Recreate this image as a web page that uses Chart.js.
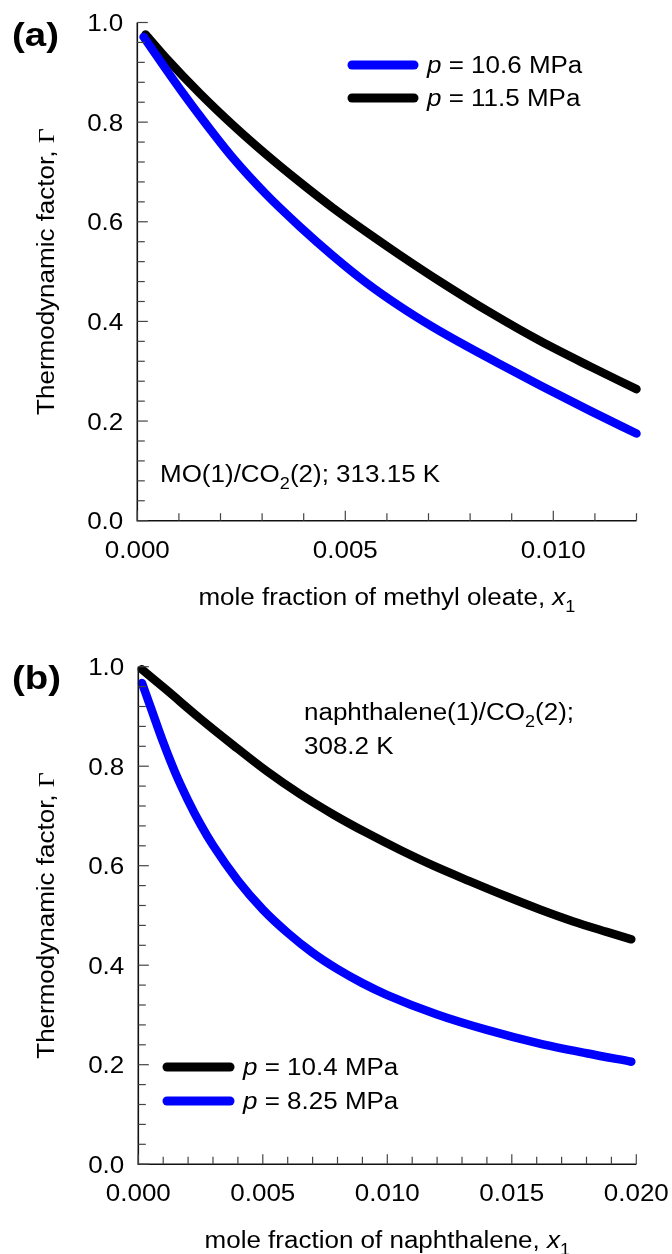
<!DOCTYPE html>
<html>
<head>
<meta charset="utf-8">
<script src="https://cdn.jsdelivr.net/npm/chart.js@4"></script>
<style>
html, body { margin: 0; padding: 0; background: #fff; }
.panel { width: 672px; height: 627px; }
</style>
</head>
<body>
<div class="panel"><canvas id="chartA" width="672" height="627"></canvas></div>
<div class="panel"><canvas id="chartB" width="672" height="627"></canvas></div>
<script>
// (a) methyl oleate / CO2, 313.15 K
const xA106 = [0.00015, 0.0007, 0.0011, 0.0015, 0.0023, 0.0031, 0.0039, 0.0047, 0.0055, 0.0063, 0.0071, 0.0079, 0.0087, 0.0097, 0.0109, 0.0120];
const yA106 = [0.971, 0.905, 0.858, 0.813, 0.728, 0.655, 0.591, 0.532, 0.478, 0.431, 0.389, 0.351, 0.315, 0.271, 0.220, 0.175];
const xA115 = [0.0002, 0.0007, 0.0015, 0.0023, 0.0031, 0.0039, 0.0047, 0.0055, 0.0063, 0.0073, 0.0085, 0.0097, 0.0109, 0.0120];
const yA115 = [0.976, 0.928, 0.858, 0.794, 0.735, 0.680, 0.628, 0.580, 0.534, 0.479, 0.417, 0.360, 0.309, 0.264];

// (b) naphthalene / CO2, 308.2 K
const xB104 = [0.00014, 0.00114, 0.00248, 0.00382, 0.00516, 0.00649, 0.00783, 0.00917, 0.0105, 0.01185, 0.0133, 0.0148, 0.01613, 0.01747, 0.01881, 0.0198];
const yB104 = [0.995, 0.953, 0.896, 0.842, 0.790, 0.744, 0.703, 0.666, 0.632, 0.600, 0.569, 0.538, 0.512, 0.488, 0.467, 0.452];
const xB825 = [0.00015, 0.0005, 0.001, 0.0015, 0.002, 0.0025, 0.003, 0.004, 0.005, 0.006, 0.007, 0.008, 0.009, 0.010, 0.012, 0.014, 0.016, 0.018, 0.0198];
const yB825 = [0.967, 0.918, 0.848, 0.785, 0.731, 0.683, 0.641, 0.570, 0.512, 0.465, 0.425, 0.392, 0.364, 0.340, 0.301, 0.270, 0.244, 0.223, 0.206];

// axis ticks with labels
const xMajorA = [0, 0.005, 0.010];
const xMajorB = [0, 0.005, 0.010, 0.015, 0.020];
const yMajor = [0, 0.2, 0.4, 0.6, 0.8, 1.0];

const BLUE = '#0000ff';
const BLACK = '#000000';
const SANS = '"Liberation Sans", Arial, sans-serif';
const SERIF = '"Liberation Serif", "Times New Roman", serif';
const STRETCH = 1.13; // figure text is a bit wider than Arial

// draws text made of pieces: {t, it, sub, bold, serif}
function drawRich(ctx, parts, x, y, o) {
    const fs = o.size;
    const fontOf = p => (p.bold ? 'bold ' : '') + (p.it ? 'italic ' : '') +
        Math.round((p.sub ? 0.68 : 1) * fs) + 'px ' + (p.serif ? SERIF : SANS);
    ctx.save();
    ctx.translate(x, y);
    if (o.rotate) ctx.rotate(o.rotate);
    ctx.scale(STRETCH, 1);
    let w = 0;
    const widths = parts.map(p => { ctx.font = fontOf(p); const m = ctx.measureText(p.t).width; w += m; return m; });
    let cx = o.align === 'center' ? -w / 2 : (o.align === 'right' ? -w : 0);
    ctx.fillStyle = '#000';
    ctx.textBaseline = 'alphabetic';
    parts.forEach((p, i) => {
        ctx.font = fontOf(p);
        ctx.fillText(p.t, cx, p.sub ? fs * 0.3 : 0);
        cx += widths[i];
    });
    ctx.restore();
}

function isMajor(v, list) {
    return list.some(m => Math.abs(v - m) < 1e-9);
}

function decorPlugin(cfg) {
    return {
        id: 'decor',
        afterDraw(chart) {
            const ctx = chart.ctx;
            const area = chart.chartArea;
            const xs = chart.scales.x;
            const ys = chart.scales.y;

            // axis lines
            ctx.save();
            ctx.strokeStyle = '#111';
            ctx.lineWidth = 1.6;
            ctx.beginPath();
            ctx.moveTo(area.left, area.top);
            ctx.lineTo(area.left, area.bottom);
            ctx.lineTo(area.right, area.bottom);
            ctx.stroke();

            // inward ticks
            ctx.strokeStyle = '#444';
            ctx.lineWidth = 1.2;
            xs.ticks.forEach(t => {
                const px = xs.getPixelForValue(t.value);
                const len = isMajor(t.value, cfg.xMajor) ? 10 : 7.5;
                ctx.beginPath();
                ctx.moveTo(px, area.bottom);
                ctx.lineTo(px, area.bottom - len);
                ctx.stroke();
            });
            ys.ticks.forEach(t => {
                const py = ys.getPixelForValue(t.value);
                const len = isMajor(t.value, yMajor) ? 10.5 : 7.5;
                ctx.beginPath();
                ctx.moveTo(area.left, py);
                ctx.lineTo(area.left + len, py);
                ctx.stroke();
            });
            ctx.restore();

            // tick labels
            cfg.xMajor.forEach(v => {
                drawRich(ctx, [{ t: v.toFixed(3) }], xs.getPixelForValue(v), area.bottom + 37, { size: 23, align: 'center' });
            });
            yMajor.forEach(v => {
                drawRich(ctx, [{ t: v.toFixed(1) }], area.left - 14, ys.getPixelForValue(v) + 8.5, { size: 23, align: 'right' });
            });

            // axis titles
            drawRich(ctx, cfg.xTitle, (area.left + area.right) / 2, area.bottom + 84, { size: 23, align: 'center' });
            drawRich(ctx, [{ t: 'Thermodynamic factor, ' }, { t: 'Γ', serif: true }], 54, (area.top + area.bottom) / 2,
                { size: 23, align: 'center', rotate: -Math.PI / 2 });

            // panel letter
            drawRich(ctx, [{ t: cfg.letter, bold: true }], 12, cfg.letterY, { size: 34 });

            // system annotation
            cfg.notes.forEach(n => drawRich(ctx, n.parts, n.x, n.y, { size: 23 }));

            // legend
            chart.data.datasets.forEach((ds, i) => {
                const lg = cfg.legend[i];
                ctx.save();
                ctx.strokeStyle = ds.borderColor;
                ctx.lineWidth = 9;
                ctx.lineCap = 'round';
                ctx.beginPath();
                ctx.moveTo(cfg.legendX[0], lg.y);
                ctx.lineTo(cfg.legendX[1], lg.y);
                ctx.stroke();
                ctx.restore();
                drawRich(ctx, [{ t: 'p', it: true }, { t: ' = ' + ds.label }], cfg.legendX[2], lg.y + 8, { size: 23 });
            });
        }
    };
}

function makeChart(id, cfg) {
    const datasets = cfg.series.map(s => ({
        label: s.label,
        data: s.x.map((v, i) => ({ x: v, y: s.y[i] })),
        borderColor: s.color,
        backgroundColor: s.color,
        showLine: true,
        pointRadius: 0,
        borderWidth: 8.5,
        borderCapStyle: 'round',
        borderJoinStyle: 'round',
        cubicInterpolationMode: 'monotone',
        clip: false
    }));
    return new Chart(document.getElementById(id), {
        type: 'scatter',
        data: { datasets: datasets },
        options: {
            responsive: false,
            animation: false,
            events: [],
            layout: { padding: { left: 0, top: cfg.area.top, right: 672 - cfg.area.right, bottom: 0 } },
            plugins: { legend: { display: false }, tooltip: { enabled: false } },
            scales: {
                x: {
                    type: 'linear', min: 0, max: cfg.xMax,
                    grid: { display: false }, border: { display: false },
                    ticks: { display: false, stepSize: 0.001, maxTicksLimit: 100 },
                    afterFit: s => { s.height = 627 - cfg.area.bottom; }
                },
                y: {
                    type: 'linear', min: 0, max: 1,
                    grid: { display: false }, border: { display: false },
                    ticks: { display: false, stepSize: 0.04, maxTicksLimit: 100 },
                    afterFit: s => { s.width = cfg.area.left; }
                }
            }
        },
        plugins: [decorPlugin(cfg)]
    });
}

makeChart('chartA', {
    area: { left: 137.3, right: 636.5, top: 22.5, bottom: 520.7 },
    xMax: 0.012,
    xMajor: xMajorA,
    series: [
        { label: '10.6 MPa', x: xA106, y: yA106, color: BLUE },
        { label: '11.5 MPa', x: xA115, y: yA115, color: BLACK }
    ],
    legend: [{ y: 65 }, { y: 98 }],
    legendX: [352, 414, 427],
    letter: '(a)', letterY: 46,
    xTitle: [{ t: 'mole fraction of methyl oleate, ' }, { t: 'x', it: true }, { t: '1', sub: true }],
    notes: [
        { x: 160, y: 482, parts: [{ t: 'MO(1)/CO' }, { t: '2', sub: true }, { t: '(2); 313.15 K' }] }
    ]
});

makeChart('chartB', {
    area: { left: 138.3, right: 636.3, top: 39.7, bottom: 537.2 },
    xMax: 0.020,
    xMajor: xMajorB,
    series: [
        { label: '10.4 MPa', x: xB104, y: yB104, color: BLACK },
        { label: '8.25 MPa', x: xB825, y: yB825, color: BLUE }
    ],
    legend: [{ y: 440 }, { y: 474 }],
    legendX: [167, 230, 243],
    letter: '(b)', letterY: 62,
    xTitle: [{ t: 'mole fraction of naphthalene, ' }, { t: 'x', it: true }, { t: '1', sub: true }],
    notes: [
        { x: 304, y: 93, parts: [{ t: 'naphthalene(1)/CO' }, { t: '2', sub: true }, { t: '(2);' }] },
        { x: 304, y: 127, parts: [{ t: '308.2 K' }] }
    ]
});
</script>
</body>
</html>
